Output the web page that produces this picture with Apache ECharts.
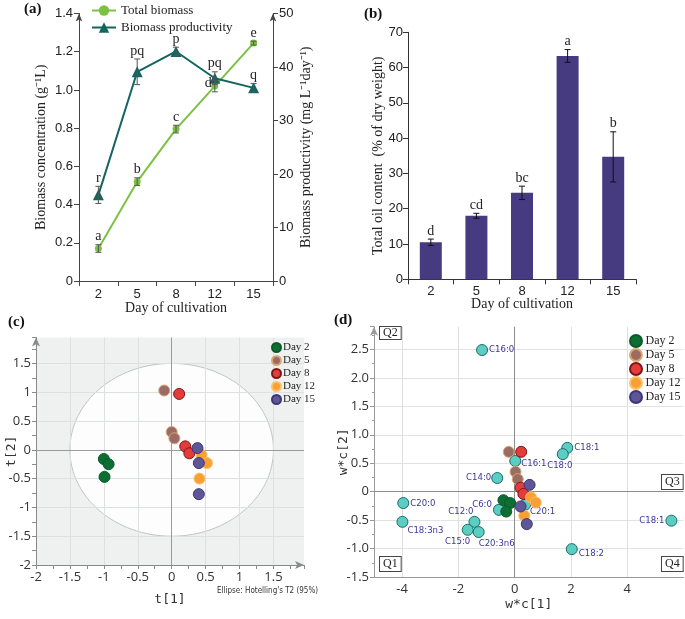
<!DOCTYPE html>
<html><head><meta charset="utf-8">
<script src="https://cdn.jsdelivr.net/npm/echarts@6/dist/echarts.min.js"></script>
<style>html,body{margin:0;padding:0;background:#fff}#c{width:685px;height:619px}</style>
</head><body><div id="c"></div>
<script>
// ---------- data ----------
const days = ['2', '5', '8', '12', '15'];
const biomass = [0.17, 0.52, 0.795, 1.02, 1.245];
const biomassErr = [0.02, 0.02, 0.02, 0.03, 0.01];
const biomassLetters = ['a', 'b', 'c', 'd', 'e'];
const productivity = [16.1, 39.1, 42.9, 37.9, 36.1];
const productivityErr = [1.6, 2.4, 0.8, 1.2, 0.8];
const productivityLetters = ['r', 'pq', 'p', 'pq', 'q'];
const oil = [10.5, 18.0, 24.5, 63.3, 34.7];
const oilErr = [0.9, 0.7, 1.9, 1.8, 7.1];
const oilLetters = ['d', 'cd', 'bc', 'a', 'b'];

const dayNames = ['Day 2', 'Day 5', 'Day 8', 'Day 12', 'Day 15'];
// PCA score plot (c): [t1, t2]
const pcaDay2 = [[-1.0, -0.16], [-0.93, -0.25], [-0.99, -0.47]];
const pcaDay5 = [[-0.11, 1.03], [0.0, 0.31], [0.04, 0.2]];
const pcaDay8 = [[0.11, 0.97], [0.2, 0.06], [0.26, -0.06]];
const pcaDay12 = [[0.44, -0.09], [0.52, -0.23], [0.41, -0.5]];
const pcaDay15 = [[0.38, 0.03], [0.4, -0.23], [0.4, -0.77]];
const hotellingCenter = [0, 0];
const hotellingRadius = [1.5, 1.5];

// Biplot (d): scores [w*c1, w*c2]
const biDay2 = [[-0.4, -0.15], [-0.16, -0.2], [-0.3, -0.35]];
const biDay5 = [[-0.21, 0.7], [0.03, 0.35], [0.11, 0.22]];
const biDay8 = [[0.23, 0.7], [0.21, 0.07], [0.31, -0.04]];
const biDay12 = [[0.58, -0.1], [0.75, -0.19], [0.34, -0.42]];
const biDay15 = [[0.53, 0.12], [0.21, -0.26], [0.43, -0.57]];
// Biplot loadings
const loadingNames = ['C16:0', 'C18:1', 'C18:0', 'C16:1', 'C14:0', 'C20:0', 'C18:3n3', 'C12:0', 'C15:0', 'C20:3n6', 'C6:0', 'C20:1', 'C18:2', 'C18:1'];
const loadingX = [-1.16, 1.87, 1.71, 0.02, -0.62, -3.96, -3.99, -1.43, -1.67, -1.28, -0.56, 0.37, 2.03, 5.57];
const loadingY = [2.49, 0.77, 0.66, 0.54, 0.24, -0.2, -0.53, -0.53, -0.67, -0.71, -0.32, -0.23, -1.01, -0.51];

// ---------- styles ----------
const SERIF = '"Liberation Serif", "Times New Roman", serif';
const SANS = '"Liberation Sans", Arial, sans-serif';
const OSANS = '"Open Sans", "Liberation Sans", sans-serif';
const MONO = '"DejaVu Sans Mono", "Liberation Mono", monospace';
const NARROW = '"Liberation Sans Narrow", "DejaVu Sans Condensed", "Liberation Sans", sans-serif';
const dayFill = ['#0c6e33', '#9b6c64', '#e43b3b', '#f9a035', '#5d5697'];
const dayBorder = ['#0a5a2a', '#d9a873', '#7f1616', '#fcc06a', '#3f3578'];
const loadingLabelPlace = {
  'C16:0': ['right', 0, 0], 'C18:0': ['bottom', -3, -1], 'C16:1': ['right', -1, 3],
  'C14:0': ['left', 1, 0], 'C20:0': ['right', 0, 0], 'C18:3n3': ['right', -2, 9],
  'C12:0': ['left', 6, -10], 'C15:0': ['bottom', -10, 0], 'C20:3n6': ['right', -7, 11],
  'C6:0': ['left', 0, -5], 'C20:1': ['right', -2, 7], 'C18:2': ['right', 0, 4]
};
const biomassLetterSide = ['top', 'top', 'top', 'left', 'top'];

function errRender(letters, sides, color) {
  return function (params, api) {
    const i = api.value(0), v = api.value(1), e = api.value(2);
    const top = api.coord([i, v + e]), bot = api.coord([i, v - e]), mid = api.coord([i, v]);
    const cap = 3;
    const ls = { stroke: color, lineWidth: 1 };
    const children = [
      { type: 'line', shape: { x1: top[0], y1: top[1], x2: bot[0], y2: bot[1] }, style: ls },
      { type: 'line', shape: { x1: top[0] - cap, y1: top[1], x2: top[0] + cap, y2: top[1] }, style: ls },
      { type: 'line', shape: { x1: bot[0] - cap, y1: bot[1], x2: bot[0] + cap, y2: bot[1] }, style: ls }
    ];
    const side = sides ? sides[params.dataIndex] : 'top';
    const t = letters[params.dataIndex];
    if (side === 'left') {
      children.push({ type: 'text', x: mid[0] - 3, y: mid[1] - 3,
        style: { text: t, font: '14px ' + SERIF, fill: '#222', align: 'right', verticalAlign: 'middle', textAlign: 'right', textVerticalAlign: 'middle' } });
    } else {
      children.push({ type: 'text', x: top[0], y: top[1] - 1,
        style: { text: t, font: '14px ' + SERIF, fill: '#222', align: 'center', verticalAlign: 'bottom', textAlign: 'center', textVerticalAlign: 'bottom' } });
    }
    return { type: 'group', children };
  };
}

const fmt1 = v => (v === 0 ? '0' : v.toFixed(1));

const axisDark = { lineStyle: { color: '#444', width: 1 } };

const series = [];
// (a)
series.push({
  name: 'Total biomass', type: 'line', xAxisIndex: 0, yAxisIndex: 0,
  data: biomass, symbol: 'circle', symbolSize: 7, z: 3,
  lineStyle: { color: '#7cc242', width: 2 }, itemStyle: { color: '#7cc242' }
});
series.push({
  name: 'Biomass productivity', type: 'line', xAxisIndex: 0, yAxisIndex: 1,
  data: productivity, symbol: 'triangle', symbolSize: 11, z: 3,
  lineStyle: { color: '#136562', width: 2 }, itemStyle: { color: '#136562' }
});
series.push({
  type: 'custom', xAxisIndex: 0, yAxisIndex: 0, z: 4, silent: true,
  data: biomass.map((v, i) => [i, v, biomassErr[i]]),
  encode: { x: 0, y: 1 },
  renderItem: errRender(biomassLetters, biomassLetterSide, '#555')
});
series.push({
  type: 'custom', xAxisIndex: 0, yAxisIndex: 1, z: 4, silent: true,
  data: productivity.map((v, i) => [i, v, productivityErr[i]]),
  encode: { x: 0, y: 1 },
  renderItem: errRender(productivityLetters, null, '#555')
});
// (b)
series.push({
  type: 'bar', xAxisIndex: 1, yAxisIndex: 2, data: oil, barWidth: 22,
  itemStyle: { color: '#463b80' }
});
series.push({
  type: 'custom', xAxisIndex: 1, yAxisIndex: 2, z: 4, silent: true,
  data: oil.map((v, i) => [i, v, oilErr[i]]),
  encode: { x: 0, y: 1 },
  renderItem: errRender(oilLetters, null, '#111')
});
// (c)
series.push({
  type: 'custom', xAxisIndex: 2, yAxisIndex: 3, z: 1, silent: true,
  data: [[hotellingCenter[0], hotellingCenter[1], hotellingRadius[0], hotellingRadius[1]]],
  encode: { x: 0, y: 1 },
  renderItem: (params, api) => {
    const c = api.coord([api.value(0), api.value(1)]);
    const s = api.size([api.value(2), api.value(3)]);
    return { type: 'ellipse', shape: { cx: c[0], cy: c[1], rx: s[0], ry: s[1] },
      style: { fill: 'rgba(255,255,255,0.85)', stroke: '#c4c4c4', lineWidth: 1 } };
  }
});
const pcaSets = [pcaDay2, pcaDay5, pcaDay8, pcaDay12, pcaDay15];
pcaSets.forEach((d, k) => {
  const s = {
    name: dayNames[k], type: 'scatter', xAxisIndex: 2, yAxisIndex: 3, z: 5,
    data: d, symbolSize: 11,
    itemStyle: { color: dayFill[k], borderColor: dayBorder[k], borderWidth: 1, opacity: 1 }
  };
  if (k === 0) {
    s.markLine = { silent: true, symbol: 'none', label: { show: false },
      lineStyle: { color: '#9a9a9a', type: 'solid', width: 1 },
      data: [{ xAxis: 0 }, { yAxis: 0 }], z: 2 };
  }
  series.push(s);
});
// (d)
series.push({
  type: 'scatter', xAxisIndex: 3, yAxisIndex: 4, z: 5,
  data: loadingNames.map((n, i) => {
    const p = loadingLabelPlace[n] || (i === 13 ? ['left', 0, 0] : ['right', 0, 0]);
    return { value: [loadingX[i], loadingY[i]], name: n,
      label: { position: p[0], offset: [p[1], p[2]] } };
  }),
  symbolSize: 11,
  itemStyle: { color: '#5ccdc3', borderColor: '#1b6e69', borderWidth: 1, opacity: 1 },
  label: { show: true, formatter: '{b}', distance: 1, color: '#3b36a0', fontSize: 9.5, fontFamily: NARROW },
  markLine: { silent: true, symbol: 'none', label: { show: false },
    data: [
      { xAxis: -4, lineStyle: { color: '#dedede' } }, { xAxis: -2, lineStyle: { color: '#dedede' } },
      { xAxis: 2, lineStyle: { color: '#dedede' } }, { xAxis: 4, lineStyle: { color: '#dedede' } },
      { xAxis: 0, lineStyle: { color: '#8c8c8c' } }, { yAxis: 0, lineStyle: { color: '#8c8c8c' } }
    ],
    lineStyle: { type: 'solid', width: 1 } }
});
const biSets = [biDay2, biDay5, biDay8, biDay12, biDay15];
biSets.forEach((d, k) => {
  series.push({
    name: dayNames[k], type: 'scatter', xAxisIndex: 3, yAxisIndex: 4, z: 6,
    data: d, symbolSize: 11,
    itemStyle: { color: dayFill[k], borderColor: dayBorder[k], borderWidth: 1, opacity: 1 }
  });
});

const option = {
  animation: false,
  backgroundColor: '#fff',
  legend: [
    { data: ['Total biomass', 'Biomass productivity'], orient: 'vertical', left: 86, top: -1,
      itemWidth: 24, itemHeight: 13, itemGap: 4,
      textStyle: { fontFamily: SERIF, fontSize: 13, color: '#222' } },
    { data: dayNames, orient: 'vertical', left: 266, top: 337, itemWidth: 9, itemHeight: 9, itemGap: 2,
      icon: 'circle', textStyle: { fontFamily: SERIF, fontSize: 11, color: '#222', padding: [0, 0, 0, -3] } },
    { data: dayNames, orient: 'vertical', left: 624, top: 329, itemWidth: 13, itemHeight: 12, itemGap: 0,
      icon: 'circle', textStyle: { fontFamily: SERIF, fontSize: 12, color: '#222', padding: [0, 0, 0, -2] } }
  ],
  grid: [
    { left: 79, right: 412, top: 13.5, bottom: 338, outerBoundsMode: 'none', containLabel: false },
    { left: 408, right: 49, top: 32.3, bottom: 339.7, outerBoundsMode: 'none', containLabel: false },
    { left: 36, right: 381, top: 337.5, bottom: 54, show: true, backgroundColor: '#eff1f1', borderWidth: 0, z: 0, outerBoundsMode: 'none', containLabel: false },
    { left: 374, right: 1.5, top: 326.7, bottom: 42, outerBoundsMode: 'none', containLabel: false }
  ],
  xAxis: [
    { type: 'category', gridIndex: 0, data: days,
      axisLine: axisDark, axisTick: { show: true, length: 5, lineStyle: { color: '#444' } },
      axisLabel: { fontFamily: SANS, fontSize: 13, color: '#222', margin: 7 },
      name: 'Day of cultivation', nameLocation: 'middle', nameGap: 20, nameMoveOverlap: false,
      nameTextStyle: { fontFamily: SERIF, fontSize: 14, color: '#222' } },
    { type: 'category', gridIndex: 1, data: days,
      axisLine: { lineStyle: { color: '#333' } }, axisTick: { show: true, length: 5, lineStyle: { color: '#333' } },
      axisLabel: { fontFamily: SANS, fontSize: 13, color: '#222', margin: 6 },
      name: 'Day of cultivation', nameLocation: 'middle', nameGap: 18, nameMoveOverlap: false,
      nameTextStyle: { fontFamily: SERIF, fontSize: 14, color: '#222' } },
    { type: 'value', gridIndex: 2, min: -2, max: 1.95, interval: 0.5, z: 2,
      axisLine: { show: true, onZero: false, symbol: ['none', 'arrow'], symbolSize: [6, 9], lineStyle: { color: '#8a8a8a' } },
      axisTick: { show: true, length: 4, lineStyle: { color: '#8a8a8a' } },
      minorTick: { show: true, splitNumber: 2, length: 4, lineStyle: { color: '#8a8a8a' } },
      splitLine: { show: true, showMaxLine: false, lineStyle: { color: '#dde0e0' } },
      axisLabel: { fontFamily: OSANS, fontSize: 13, color: '#333', showMaxLabel: false, margin: 6 },
      name: 't[1]', nameLocation: 'middle', nameGap: 28, nameMoveOverlap: false,
      nameTextStyle: { fontFamily: MONO, fontSize: 13, color: '#333' } },
    { type: 'value', gridIndex: 3, min: -5, max: 6, interval: 1,
      axisLine: { show: true, onZero: false, lineStyle: { color: '#999' } },
      axisTick: { show: false }, splitLine: { show: false },
      axisLabel: { fontFamily: OSANS, fontSize: 13, color: '#333', margin: 6,
        formatter: v => (v % 2 === 0 && v !== 6 ? String(v) : '') },
      name: 'w*c[1]', nameLocation: 'middle', nameGap: 21, nameMoveOverlap: false,
      nameTextStyle: { fontFamily: MONO, fontSize: 13, color: '#333' } }
  ],
  yAxis: [
    { type: 'value', gridIndex: 0, min: 0, max: 1.4, interval: 0.2,
      axisLine: { show: true, symbol: ['none', 'arrow'], symbolSize: [5, 8], lineStyle: { color: '#444' } },
      axisTick: { show: true, length: 5, lineStyle: { color: '#444' } }, splitLine: { show: false },
      axisLabel: { fontFamily: SANS, fontSize: 13, color: '#222', formatter: fmt1, margin: 6 },
      name: 'Biomass concentration (g⁻¹L)', nameLocation: 'middle', nameGap: 31, nameMoveOverlap: false,
      nameTextStyle: { fontFamily: SERIF, fontSize: 14, color: '#222' } },
    { type: 'value', gridIndex: 0, position: 'right', min: 0, max: 50, interval: 10,
      axisLine: { show: true, symbol: ['none', 'arrow'], symbolSize: [5, 8], lineStyle: { color: '#444' } },
      axisTick: { show: true, length: 5, lineStyle: { color: '#444' } }, splitLine: { show: false },
      axisLabel: { fontFamily: SANS, fontSize: 13, color: '#222', margin: 6 },
      name: 'Biomass productivity (mg L⁻¹day⁻¹)', nameLocation: 'middle', nameGap: 26, nameMoveOverlap: false,
      nameTextStyle: { fontFamily: SERIF, fontSize: 14, color: '#222' } },
    { type: 'value', gridIndex: 1, min: 0, max: 70, interval: 10,
      axisLine: { show: true, lineStyle: { color: '#333' } },
      axisTick: { show: true, length: 5, lineStyle: { color: '#333' } }, splitLine: { show: false },
      axisLabel: { fontFamily: SANS, fontSize: 13, color: '#222', margin: 5 },
      name: 'Total oil content  (% of dry weight)', nameLocation: 'middle', nameGap: 23, nameMoveOverlap: false,
      nameTextStyle: { fontFamily: SERIF, fontSize: 14, color: '#222' } },
    { type: 'value', gridIndex: 2, min: -2, max: 1.95, interval: 0.5, z: 2,
      axisLine: { show: true, onZero: false, symbol: ['none', 'arrow'], symbolSize: [6, 9], lineStyle: { color: '#8a8a8a' } },
      axisTick: { show: true, length: 4, lineStyle: { color: '#8a8a8a' } },
      minorTick: { show: true, splitNumber: 2, length: 4, lineStyle: { color: '#8a8a8a' } },
      splitLine: { show: true, showMaxLine: false, lineStyle: { color: '#dde0e0' } },
      axisLabel: { fontFamily: OSANS, fontSize: 13, color: '#333', showMaxLabel: false, margin: 5 },
      name: 't[2]', nameLocation: 'middle', nameGap: 18, nameMoveOverlap: false,
      nameTextStyle: { fontFamily: MONO, fontSize: 13, color: '#333' } },
    { type: 'value', gridIndex: 3, min: -1.5, max: 2.9, interval: 0.5,
      axisLine: { show: true, onZero: false, symbol: ['none', 'arrow'], symbolSize: [6, 9], lineStyle: { color: '#999' } },
      axisTick: { show: true, length: 4, lineStyle: { color: '#999' } },
      minorTick: { show: true, splitNumber: 2, length: 2, lineStyle: { color: '#999' } },
      splitLine: { show: true, showMaxLine: false, lineStyle: { color: '#e2e2e2' } },
      axisLabel: { fontFamily: OSANS, fontSize: 13, color: '#333', showMaxLabel: false, formatter: fmt1, margin: 5 },
      name: 'w*c[2]', nameLocation: 'middle', nameGap: 24, nameMoveOverlap: false,
      nameTextStyle: { fontFamily: MONO, fontSize: 13, color: '#333' } }
  ],
  graphic: [
    { type: 'text', left: 24, top: 2, style: { text: '(a)', font: 'bold 15px ' + SERIF, fill: '#111' } },
    { type: 'text', left: 364, top: 7, style: { text: '(b)', font: 'bold 15px ' + SERIF, fill: '#111' } },
    { type: 'text', left: 8, top: 315, style: { text: '(c)', font: 'bold 15px ' + SERIF, fill: '#111' } },
    { type: 'text', left: 334, top: 313, style: { text: '(d)', font: 'bold 15px ' + SERIF, fill: '#111' } },
    { type: 'text', left: 217, top: 587, style: { text: "Ellipse: Hotelling's T2 (95%)", font: '8px ' + NARROW, fill: '#333' } },
    { type: 'text', left: 379, top: 326, style: { text: 'Q2', font: '12px ' + SERIF, fill: '#222', backgroundColor: '#fff', borderColor: '#444', borderWidth: 1, padding: [0, 3, 0, 3] } },
    { type: 'text', left: 661, top: 474, style: { text: 'Q3', font: '12px ' + SERIF, fill: '#222', backgroundColor: '#fff', borderColor: '#444', borderWidth: 1, padding: [1, 3, 1, 3] } },
    { type: 'text', left: 379, top: 556, style: { text: 'Q1', font: '12px ' + SERIF, fill: '#222', backgroundColor: '#fff', borderColor: '#444', borderWidth: 1, padding: [1, 3, 1, 3] } },
    { type: 'text', left: 661, top: 556, style: { text: 'Q4', font: '12px ' + SERIF, fill: '#222', backgroundColor: '#fff', borderColor: '#444', borderWidth: 1, padding: [1, 3, 1, 3] } }
  ],
  series
};
const chart = echarts.init(document.getElementById('c'));
chart.setOption(option);
</script>
</body></html>
